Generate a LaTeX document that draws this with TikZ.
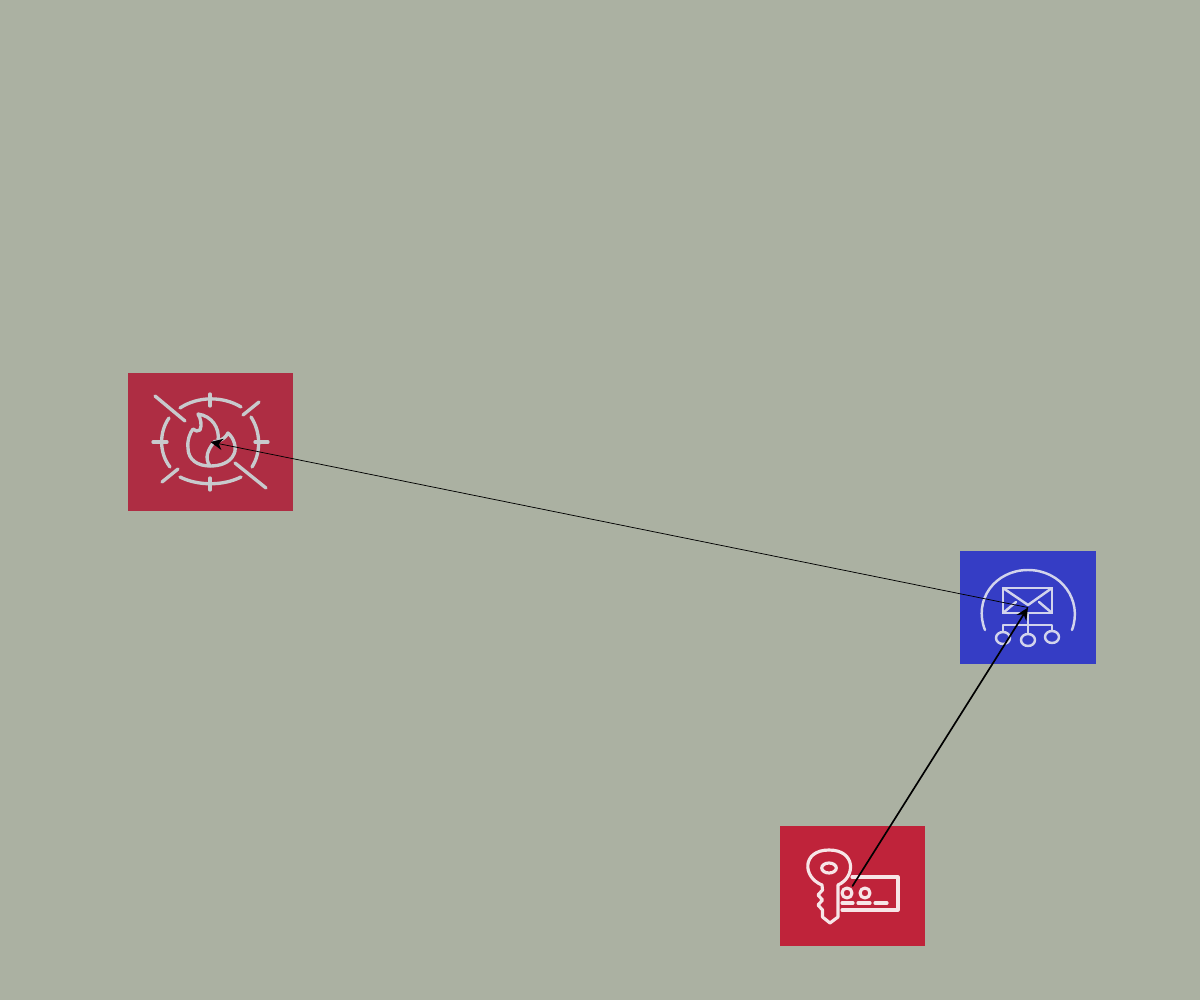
\documentclass[tikz,border=0pt]{standalone}
\usepackage{xcolor}
\usetikzlibrary{arrows.meta}
\definecolor{sagebg}{RGB}{171,177,162}
\definecolor{firered}{RGB}{174,45,67}
\definecolor{keyred}{RGB}{191,35,58}
\definecolor{mailblue}{RGB}{53,61,197}
\definecolor{firegrey}{RGB}{200,202,205}
\definecolor{mailgrey}{RGB}{210,212,236}
\tikzset{
  servicebox/.style={draw=none,inner sep=0pt,outer sep=0pt},
  fireicon/.style={draw=firegrey,line width=1.9pt},
  mailicon/.style={draw=mailgrey,line width=1.4pt},
  keyicon/.style={draw=white!88!keyred,line width=1.8pt},
  thinlink/.style={-{Stealth[length=7pt,width=6.5pt]},line width=0.42pt},
  thicklink/.style={-{Stealth[length=7pt,width=6.5pt]},line width=0.95pt}
}
\begin{document}
\begin{tikzpicture}[line cap=round,line join=round,x=0.02cm,y=-0.02cm]
    \fill[sagebg] (0,0) rectangle (1200,1000);
    % boxes
    \node[servicebox,fill=firered,minimum width=3.3cm,minimum height=2.76cm] (firewall) at (210.5,442) {};
    \node[servicebox,fill=mailblue,minimum width=2.72cm,minimum height=2.26cm] (mail) at (1028,607.5) {};
    \node[servicebox,fill=keyred,minimum width=2.9cm,minimum height=2.4cm] (keycard) at (852.5,886) {};
    % firewall icon
    \draw[fireicon] (155,396) -- (185,421);
    \draw[fireicon] (235,463) -- (266,488);
    \draw[fireicon] (243,415) -- (259,402);
    \draw[fireicon] (162,482) -- (178,469);
    \draw[fireicon] (210,394) -- (210,406);
    \draw[fireicon] (210,478) -- (210,490);
    \draw[fireicon] (153,442) -- (167,442);
    \draw[fireicon] (255,442) -- (268,442);
    \draw[fireicon] (180,408) .. controls (198,396) and (223,396) .. (241,407);
    \draw[fireicon] (180,477) .. controls (198,486) and (223,486) .. (241,477);
    \draw[fireicon] (169,418) .. controls (159,432) and (159,453) .. (170,467);
    \draw[fireicon] (251,417) .. controls (261,432) and (261,453) .. (252,467);
    \draw[fireicon] (198,414) .. controls (212,416) and (220,428) .. (218,441) .. controls (222,440) and (226,437) .. (228,433) .. controls (234,438) and (237,448) .. (234,454) .. controls (230,463) and (220,466) .. (210,466) .. controls (198,466) and (188,460) .. (188,448) .. controls (187,440) and (190,433) .. (193,429) .. controls (195,431) and (198,432) .. (200,430) .. controls (202,425) and (201,419) .. (198,414) -- cycle;
    \draw[fireicon] (215,441) .. controls (208,449) and (204,458) .. (210,466);
    % mail icon
    \draw[mailicon] (985,630) .. controls (973,600) and (995,570) .. (1028,570) .. controls (1061,570) and (1083,600) .. (1072,630);
    \draw[mailicon] (1003,588) rectangle (1052,613);
    \draw[mailicon] (1003,588) -- (1028,605) -- (1052,588);
    \draw[mailicon] (1003,613) -- (1016,602);
    \draw[mailicon] (1052,613) -- (1039,602);
    \draw[mailicon] (1028,613) -- (1028,633);
    \draw[mailicon] (1003,632) -- (1003,625) -- (1052,625) -- (1052,631);
    \draw[mailicon] (1003,638) ellipse (7 and 6);
    \draw[mailicon] (1028,640) ellipse (7 and 6);
    \draw[mailicon] (1052,637) ellipse (7 and 6);
    % key icon
    \draw[keyicon] (822,885) .. controls (802,877) and (802,850) .. (829,850) .. controls (856,850) and (856,877) .. (838,885) -- (838,917) -- (830,923) -- (822.5,917) -- (822.5,910) -- (818,905) -- (822.5,900) -- (818,895) -- (822.5,890) -- cycle;
    \draw[keyicon] (829,868) ellipse (7.3 and 5);
    \draw[keyicon] (852,877) -- (898,877) -- (898,910) -- (842,910);
    \draw[keyicon] (847,893) circle (5);
    \draw[keyicon] (865,893) circle (5);
    \draw[keyicon] (842,903) -- (853,903);
    \draw[keyicon] (858,903) -- (870,903);
    \draw[keyicon] (875,903) -- (887,903);
    % links
    \draw[thinlink] (mail.center) -- (firewall.center);
    \draw[thicklink] (keycard.center) -- (mail.center);
\end{tikzpicture}
\end{document}
